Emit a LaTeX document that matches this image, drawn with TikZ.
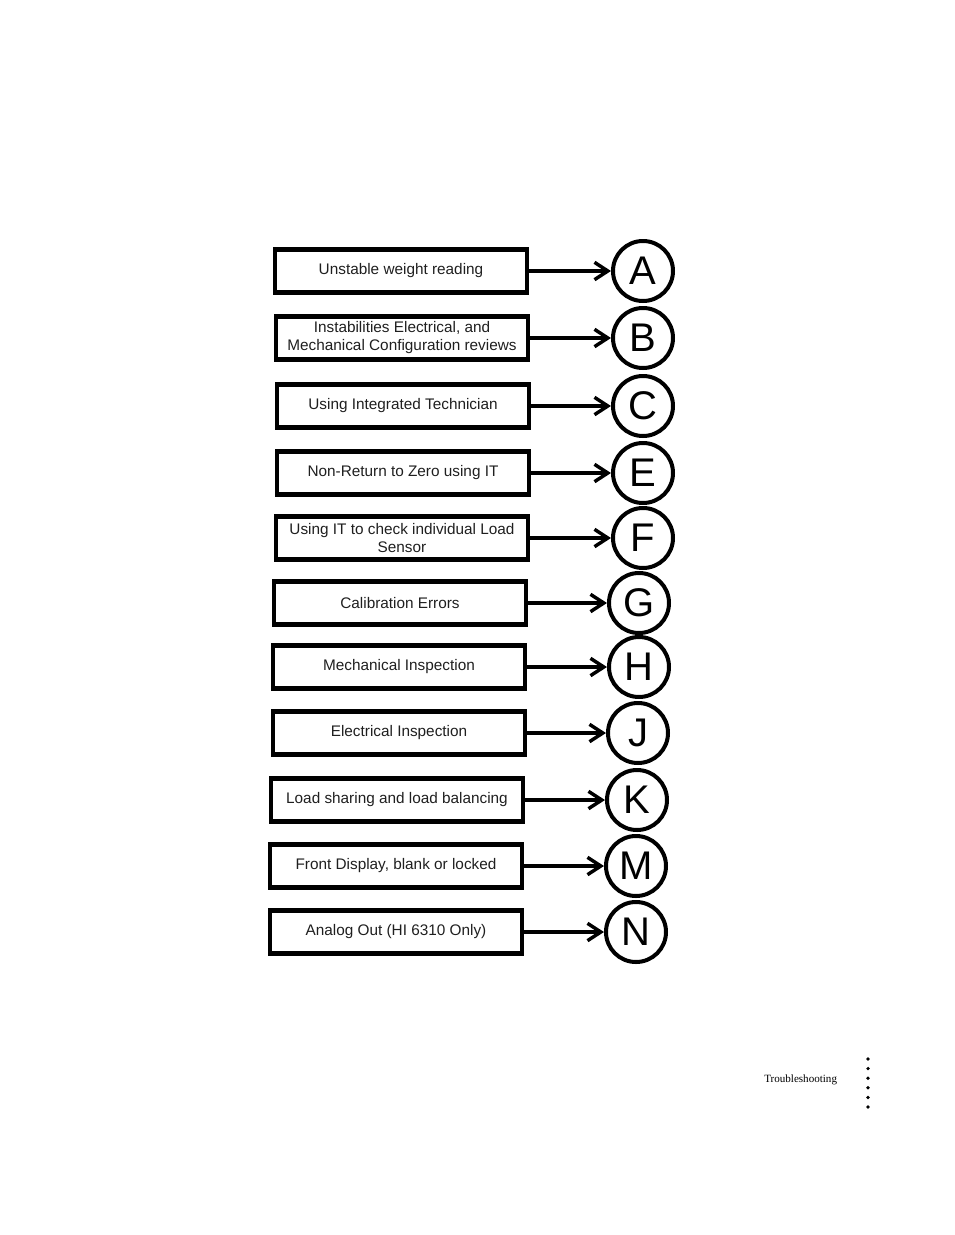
\documentclass[tikz,border=0pt]{standalone}
\usepackage{fontspec}
\setmainfont{Liberation Sans}
\newfontfamily\seriffont{Liberation Serif}
\usetikzlibrary{arrows.meta}
\tikzset{
  tbox/.style={draw=black, line width=3.4pt, minimum width=189pt, minimum height=32pt,
    inner sep=1pt, align=center, font=\fontsize{11.5pt}{13.5pt}\selectfont, text=black!88},
  tcirc/.style={draw=black, line width=3pt, circle, minimum size=45pt, inner sep=0pt,
    font=\fontsize{30pt}{30pt}\selectfont},
  conn/.style={line width=3pt, -{Straight Barb[length=10pt,width=13pt,line width=2.6pt]}},
  dot/.style={fill=black, circle, inner sep=0pt, minimum size=2.8pt}
}
\begin{document}
\begin{tikzpicture}[x=0.75pt,y=-0.75pt]
\useasboundingbox (0,0) rectangle (954,1235);
\foreach \nm/\lx/\cy/\ccx/\txt in {
  A/273/271/643/{Unstable weight reading},
  B/274/338/643/{Instabilities Electrical, and\\Mechanical Configuration reviews},
  C/275/406/643/{Using Integrated Technician},
  E/275/473/643/{Non-Return to Zero using IT},
  F/274/538/643/{Using IT to check individual Load\\Sensor},
  G/272/603/639/{Calibration Errors},
  H/271/667/639/{Mechanical Inspection},
  J/271/733/638/{Electrical Inspection},
  K/269/800/637/{Load sharing and load balancing},
  M/268/866/636/{Front Display, blank or locked},
  N/268/932/636/{Analog Out (HI 6310 Only)}}{
  \node[tbox] (box\nm) at (\lx+128,\cy) {\txt};
  \node[tcirc] (circ\nm) at (\ccx,\cy) {\nm};
  \draw[conn] (box\nm.east) -- (circ\nm.west);
}
\node[font=\seriffont\fontsize{8.3pt}{10pt}\selectfont, anchor=base west, inner sep=0pt] (foot) at (764,1082) {Troubleshooting};
\foreach \i in {0,...,5}{
  \node[dot] (d\i) at (868,1059+9.6*\i) {};
}
\end{tikzpicture}
\end{document}
